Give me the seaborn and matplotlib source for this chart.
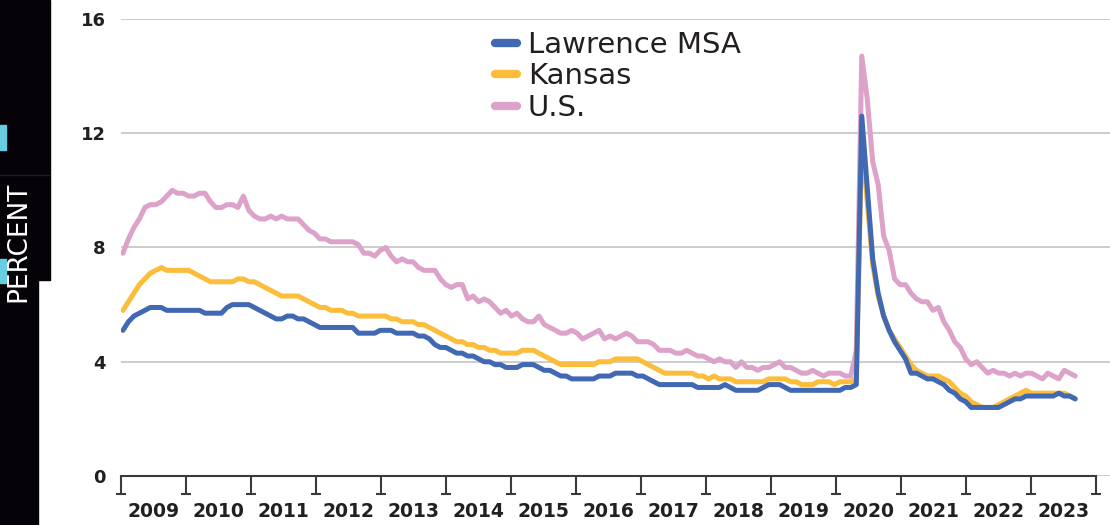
import numpy as np
import pandas as pd
import matplotlib
matplotlib.use("Agg")
import matplotlib.pyplot as plt
import matplotlib.transforms as mtransforms
from matplotlib.patches import Rectangle
import seaborn as sns

# monthly unemployment rate, Jan 2009 - Jul 2023 (one row per year)
lawrence = [
    5.1, 5.4, 5.6, 5.7, 5.8, 5.9, 5.9, 5.9, 5.8, 5.8, 5.8, 5.8,
    5.8, 5.8, 5.8, 5.7, 5.7, 5.7, 5.7, 5.9, 6.0, 6.0, 6.0, 6.0,
    5.9, 5.8, 5.7, 5.6, 5.5, 5.5, 5.6, 5.6, 5.5, 5.5, 5.4, 5.3,
    5.2, 5.2, 5.2, 5.2, 5.2, 5.2, 5.2, 5.0, 5.0, 5.0, 5.0, 5.1,
    5.1, 5.1, 5.0, 5.0, 5.0, 5.0, 4.9, 4.9, 4.8, 4.6, 4.5, 4.5,
    4.4, 4.3, 4.3, 4.2, 4.2, 4.1, 4.0, 4.0, 3.9, 3.9, 3.8, 3.8,
    3.8, 3.9, 3.9, 3.9, 3.8, 3.7, 3.7, 3.6, 3.5, 3.5, 3.4, 3.4,
    3.4, 3.4, 3.4, 3.5, 3.5, 3.5, 3.6, 3.6, 3.6, 3.6, 3.5, 3.5,
    3.4, 3.3, 3.2, 3.2, 3.2, 3.2, 3.2, 3.2, 3.2, 3.1, 3.1, 3.1,
    3.1, 3.1, 3.2, 3.1, 3.0, 3.0, 3.0, 3.0, 3.0, 3.1, 3.2, 3.2,
    3.2, 3.1, 3.0, 3.0, 3.0, 3.0, 3.0, 3.0, 3.0, 3.0, 3.0, 3.0,
    3.1, 3.1, 3.2, 12.6, 10.1, 7.6, 6.4, 5.6, 5.1, 4.7, 4.4, 4.1,
    3.6, 3.6, 3.5, 3.4, 3.4, 3.3, 3.2, 3.0, 2.9, 2.7, 2.6, 2.4,
    2.4, 2.4, 2.4, 2.4, 2.4, 2.5, 2.6, 2.7, 2.7, 2.8, 2.8, 2.8,
    2.8, 2.8, 2.8, 2.9, 2.8, 2.8, 2.7,
]
kansas = [
    5.8, 6.1, 6.4, 6.7, 6.9, 7.1, 7.2, 7.3, 7.2, 7.2, 7.2, 7.2,
    7.2, 7.1, 7.0, 6.9, 6.8, 6.8, 6.8, 6.8, 6.8, 6.9, 6.9, 6.8,
    6.8, 6.7, 6.6, 6.5, 6.4, 6.3, 6.3, 6.3, 6.3, 6.2, 6.1, 6.0,
    5.9, 5.9, 5.8, 5.8, 5.8, 5.7, 5.7, 5.6, 5.6, 5.6, 5.6, 5.6,
    5.6, 5.5, 5.5, 5.4, 5.4, 5.4, 5.3, 5.3, 5.2, 5.1, 5.0, 4.9,
    4.8, 4.7, 4.7, 4.6, 4.6, 4.5, 4.5, 4.4, 4.4, 4.3, 4.3, 4.3,
    4.3, 4.4, 4.4, 4.4, 4.3, 4.2, 4.1, 4.0, 3.9, 3.9, 3.9, 3.9,
    3.9, 3.9, 3.9, 4.0, 4.0, 4.0, 4.1, 4.1, 4.1, 4.1, 4.1, 4.0,
    3.9, 3.8, 3.7, 3.6, 3.6, 3.6, 3.6, 3.6, 3.6, 3.5, 3.5, 3.4,
    3.5, 3.4, 3.4, 3.4, 3.3, 3.3, 3.3, 3.3, 3.3, 3.3, 3.4, 3.4,
    3.4, 3.4, 3.3, 3.3, 3.2, 3.2, 3.2, 3.3, 3.3, 3.3, 3.2, 3.3,
    3.3, 3.3, 3.4, 12.0, 9.6, 7.4, 6.3, 5.6, 5.1, 4.8, 4.5, 4.2,
    3.9, 3.7, 3.6, 3.5, 3.5, 3.5, 3.4, 3.3, 3.1, 2.9, 2.8, 2.6,
    2.5, 2.4, 2.4, 2.4, 2.5, 2.6, 2.7, 2.8, 2.9, 3.0, 2.9, 2.9,
    2.9, 2.9, 2.9, 2.9, 2.9, 2.8, 2.7,
]
us = [
    7.8, 8.3, 8.7, 9.0, 9.4, 9.5, 9.5, 9.6, 9.8, 10.0, 9.9, 9.9,
    9.8, 9.8, 9.9, 9.9, 9.6, 9.4, 9.4, 9.5, 9.5, 9.4, 9.8, 9.3,
    9.1, 9.0, 9.0, 9.1, 9.0, 9.1, 9.0, 9.0, 9.0, 8.8, 8.6, 8.5,
    8.3, 8.3, 8.2, 8.2, 8.2, 8.2, 8.2, 8.1, 7.8, 7.8, 7.7, 7.9,
    8.0, 7.7, 7.5, 7.6, 7.5, 7.5, 7.3, 7.2, 7.2, 7.2, 6.9, 6.7,
    6.6, 6.7, 6.7, 6.2, 6.3, 6.1, 6.2, 6.1, 5.9, 5.7, 5.8, 5.6,
    5.7, 5.5, 5.4, 5.4, 5.6, 5.3, 5.2, 5.1, 5.0, 5.0, 5.1, 5.0,
    4.8, 4.9, 5.0, 5.1, 4.8, 4.9, 4.8, 4.9, 5.0, 4.9, 4.7, 4.7,
    4.7, 4.6, 4.4, 4.4, 4.4, 4.3, 4.3, 4.4, 4.3, 4.2, 4.2, 4.1,
    4.0, 4.1, 4.0, 4.0, 3.8, 4.0, 3.8, 3.8, 3.7, 3.8, 3.8, 3.9,
    4.0, 3.8, 3.8, 3.7, 3.6, 3.6, 3.7, 3.6, 3.5, 3.6, 3.6, 3.6,
    3.5, 3.5, 4.4, 14.7, 13.2, 11.0, 10.2, 8.4, 7.9, 6.9, 6.7, 6.7,
    6.4, 6.2, 6.1, 6.1, 5.8, 5.9, 5.4, 5.1, 4.7, 4.5, 4.1, 3.9,
    4.0, 3.8, 3.6, 3.7, 3.6, 3.6, 3.5, 3.6, 3.5, 3.6, 3.6, 3.5,
    3.4, 3.6, 3.5, 3.4, 3.7, 3.6, 3.5,
]
years = list(range(2009, 2024))
y_ticks = [0, 4, 8, 12, 16]

series_names = ["Lawrence MSA", "Kansas", "U.S."]
colors = {"Lawrence MSA": "#4168b2", "Kansas": "#fbbd3a", "U.S.": "#dca2c9"}

n = len(lawrence)
# months spread across the year axis (chart runs Jan 2009 .. Jul 2023)
x = 2009 + np.linspace(0.03, 14.68, n)

df = pd.concat([
    pd.DataFrame({"x": x, "rate": us, "series": "U.S."}),
    pd.DataFrame({"x": x, "rate": kansas, "series": "Kansas"}),
    pd.DataFrame({"x": x, "rate": lawrence, "series": "Lawrence MSA"}),
])

sns.set_theme(style="white")
plt.rcParams["font.family"] = ["DejaVu Sans"]
plt.rcParams["lines.solid_joinstyle"] = "round"
plt.rcParams["lines.solid_capstyle"] = "round"

fig = plt.figure(figsize=(11.1, 5.25), dpi=100)
ax = fig.add_axes([121 / 1110, 49 / 525, 989 / 1110, 457 / 525])

sns.lineplot(data=df, x="x", y="rate", hue="series",
             hue_order=["U.S.", "Kansas", "Lawrence MSA"],
             palette=colors, linewidth=3.6, ax=ax, sort=False)

ax.set_xlim(2009, 2009 + 989 / 65)
ax.set_ylim(0, 16)
ax.set_xlabel("")
ax.set_ylabel("")

# y axis
ax.set_yticks(y_ticks)
ax.set_yticklabels([str(v) for v in y_ticks], fontsize=13, fontweight="bold",
                   color="#231f20")
ax.tick_params(axis="y", length=0, pad=11)
ax.yaxis.grid(True, color="#c4c4c4", linewidth=1.2)
ax.xaxis.grid(False)

# x axis: year boundaries as ticks, year names in between
ax.set_xticks(years + [2024])
ax.set_xticklabels([])
ax.set_xticks([yr + 0.5 for yr in years], minor=True)
ax.set_xticklabels([str(yr) for yr in years], minor=True, fontsize=13.5,
                   fontweight="bold", color="#231f20")
ax.tick_params(axis="x", which="major", direction="out", length=13,
               width=1.5, color="#3a3a3a", bottom=True)
ax.tick_params(axis="x", which="minor", length=0, pad=19, bottom=True)

for side in ["left", "top", "right"]:
    ax.spines[side].set_visible(False)
ax.spines["bottom"].set_bounds(2009, 2024)
ax.spines["bottom"].set_color("#3a3a3a")
ax.spines["bottom"].set_linewidth(1.5)

# little feet under the tick marks
foot = mtransforms.offset_copy(ax.transData, fig=fig, y=-13, units="points")
ax.plot(years + [2024], [0] * 16, ls="none", marker="_", ms=7.5, mew=1.5,
        color="#3a3a3a", transform=foot, clip_on=False)

# legend in Lawrence / Kansas / U.S. order
handles, labels = ax.get_legend_handles_labels()
lookup = dict(zip(labels, handles))
leg = ax.legend([lookup[s] for s in series_names], series_names,
                loc="upper left", bbox_to_anchor=(495 / 1110, 1 - 31 / 525),
                bbox_transform=fig.transFigure, frameon=False, fontsize=21,
                handlelength=0.75, handletextpad=0.37, labelspacing=0.12,
                borderpad=0, borderaxespad=0)
for line in leg.get_lines():
    line.set_linewidth(6)
    line.set_solid_capstyle("round")
for t in leg.get_texts():
    t.set_color("#231f20")

# dark side panel with the axis title
black = "#050308"
fig.add_artist(Rectangle((0, 0), 38 / 1110, 1, transform=fig.transFigure,
                         color=black, zorder=0))
fig.add_artist(Rectangle((0, 1 - 280 / 525), 50 / 1110, 280 / 525,
                         transform=fig.transFigure, color=black, zorder=0))
fig.add_artist(plt.Line2D([0, 50 / 1110], [1 - 175 / 525] * 2,
                          transform=fig.transFigure, color="#1c1c22", lw=1))
cyan = "#69cde2"
fig.add_artist(Rectangle((0, 1 - 150 / 525), 6 / 1110, 25 / 525,
                         transform=fig.transFigure, color=cyan))
fig.add_artist(Rectangle((0, 1 - 283 / 525), 6 / 1110, 24 / 525,
                         transform=fig.transFigure, color=cyan))
fig.text(18 / 1110, 1 - 242 / 525, "PERCENT", rotation=90, color="white",
         fontsize=19, ha="center", va="center")

fig.savefig("out.png", dpi=100)
